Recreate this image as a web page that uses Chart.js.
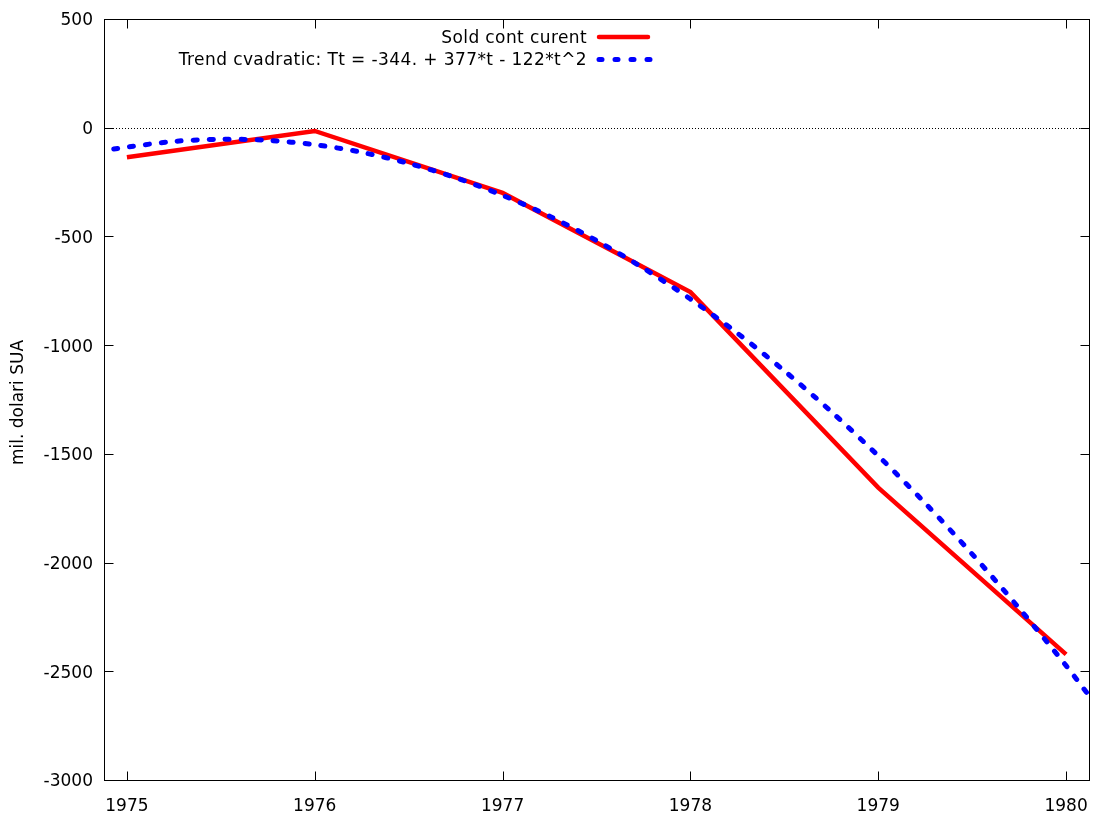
<!DOCTYPE html>
<html>
<head>
<meta charset="utf-8">
<script src="https://cdn.jsdelivr.net/npm/chart.js@4/dist/chart.umd.min.js"></script>
<style>
  html, body { margin: 0; padding: 0; background: #fff; }
  #wrap { width: 1093px; height: 814px; }
</style>
</head>
<body>
<div id="wrap"><canvas id="c" width="1093" height="814"></canvas></div>
<script>
// values
const years = [1975, 1976, 1977, 1978, 1979, 1980];
const soldCurent = [-136, -15, -300, -756, -1655, -2422];

// trend curve, sampled from the dashed line every quarter year
const trendX = [1974.93, 1975, 1975.25, 1975.5, 1975.75, 1976, 1976.25, 1976.5, 1976.75,
  1977, 1977.25, 1977.5, 1977.75, 1978, 1978.25, 1978.5, 1978.75, 1979, 1979.25,
  1979.5, 1979.75, 1980, 1980.12];
const trendY = [-98, -89, -63, -53, -58, -78, -113, -164, -230,
  -311, -407, -519, -646, -788, -945, -1118, -1306, -1509, -1727,
  -1961, -2210, -2474, -2610];

const yTicks = [500, 0, -500, -1000, -1500, -2000, -2500, -3000];
const xTicks = years;

const labelSold = "Sold cont curent";
const labelTrend = "Trend cvadratic: Tt = -344. + 377*t - 122*t^2";
const yTitle = "mil. dolari SUA";

const FONT = '"DejaVu Sans", Verdana, sans-serif';

const framePlugin = {
  id: "frame",
  beforeDatasetsDraw(chart) {
    const { ctx, chartArea: a, scales } = chart;
    const y0 = Math.round(scales.y.getPixelForValue(0)) + 0.5;
    ctx.save();
    ctx.strokeStyle = "#000";
    ctx.lineWidth = 1;
    ctx.setLineDash([1, 2]);
    ctx.beginPath();
    ctx.moveTo(a.left, y0);
    ctx.lineTo(a.right, y0);
    ctx.stroke();
    ctx.restore();
  },
  afterDraw(chart) {
    const { ctx, chartArea: a, scales } = chart;
    const L = Math.round(a.left) + 0.5, R = Math.round(a.right) + 0.5;
    const T = Math.round(a.top) + 0.5, B = Math.round(a.bottom) + 0.5;
    ctx.save();
    ctx.strokeStyle = "#000";
    ctx.lineWidth = 1;
    ctx.strokeRect(L, T, R - L, B - T);
    ctx.beginPath();
    const tl = 9;
    yTicks.forEach(v => {
      const py = Math.round(scales.y.getPixelForValue(v)) + 0.5;
      ctx.moveTo(L, py); ctx.lineTo(L + tl, py);
      ctx.moveTo(R, py); ctx.lineTo(R - tl, py);
    });
    xTicks.forEach(v => {
      const px = Math.round(scales.x.getPixelForValue(v)) + 0.5;
      ctx.moveTo(px, B); ctx.lineTo(px, B - tl);
      ctx.moveTo(px, T); ctx.lineTo(px, T + tl);
    });
    ctx.stroke();

    // y title
    ctx.fillStyle = "#000";
    ctx.font = "17px " + FONT;
    ctx.textAlign = "center";
    ctx.textBaseline = "middle";
    ctx.save();
    ctx.translate(19, (a.top + a.bottom) / 2 + 3);
    ctx.rotate(-Math.PI / 2);
    ctx.fillText(yTitle, 0, 0);
    ctx.restore();

    // legend
    ctx.textAlign = "right";
    ctx.letterSpacing = "0.4px";
    ctx.fillText(labelSold, 587, 39);
    ctx.fillText(labelTrend, 587, 61);
    ctx.letterSpacing = "0px";
    ctx.lineCap = "round";
    ctx.strokeStyle = "#ff0000";
    ctx.lineWidth = 4.5;
    ctx.beginPath();
    ctx.moveTo(599, 37); ctx.lineTo(648, 37);
    ctx.stroke();
    ctx.strokeStyle = "#0000ff";
    ctx.lineWidth = 5;
    ctx.setLineDash([3, 13]);
    ctx.beginPath();
    ctx.moveTo(599, 59.5); ctx.lineTo(650, 59.5);
    ctx.stroke();
    ctx.restore();
  }
};

new Chart(document.getElementById("c"), {
  type: "line",
  data: {
    datasets: [
      {
        label: labelTrend,
        data: trendX.map((x, i) => ({ x, y: trendY[i] })),
        borderColor: "#0000ff",
        borderWidth: 5,
        borderDash: [4, 12],
        borderCapStyle: "round",
        pointRadius: 0,
        tension: 0.3,
        fill: false
      },
      {
        label: labelSold,
        data: years.map((x, i) => ({ x, y: soldCurent[i] })),
        borderColor: "#ff0000",
        borderWidth: 4.5,
        borderJoinStyle: "miter",
        pointRadius: 0,
        tension: 0,
        fill: false
      }
    ]
  },
  options: {
    responsive: false,
    animation: false,
    devicePixelRatio: 1,
    layout: { padding: { top: 19, right: 4, left: 0, bottom: 0 } },
    plugins: { legend: { display: false }, tooltip: { enabled: false } },
    scales: {
      x: {
        type: "linear",
        min: 1974.878,
        max: 1980.122,
        grid: { display: false, drawTicks: false },
        border: { display: false },
        afterBuildTicks: s => { s.ticks = xTicks.map(v => ({ value: v })); },
        afterFit: s => { s.height = 34; s.paddingLeft = 0; s.paddingRight = 0; },
        ticks: {
          padding: 16,
          maxRotation: 0,
          autoSkip: false,
          color: "#000",
          font: { family: FONT, size: 17 },
          callback: v => String(v)
        }
      },
      y: {
        min: -3000,
        max: 500,
        grid: { display: false, drawTicks: false },
        border: { display: false },
        afterBuildTicks: s => { s.ticks = yTicks.map(v => ({ value: v })); },
        afterFit: s => { s.width = 104; s.paddingTop = 0; s.paddingBottom = 0; },
        ticks: {
          padding: 11,
          labelOffset: 2,
          color: "#000",
          font: { family: FONT, size: 17 },
          callback: v => String(v)
        }
      }
    }
  },
  plugins: [framePlugin]
});
</script>
</body>
</html>
